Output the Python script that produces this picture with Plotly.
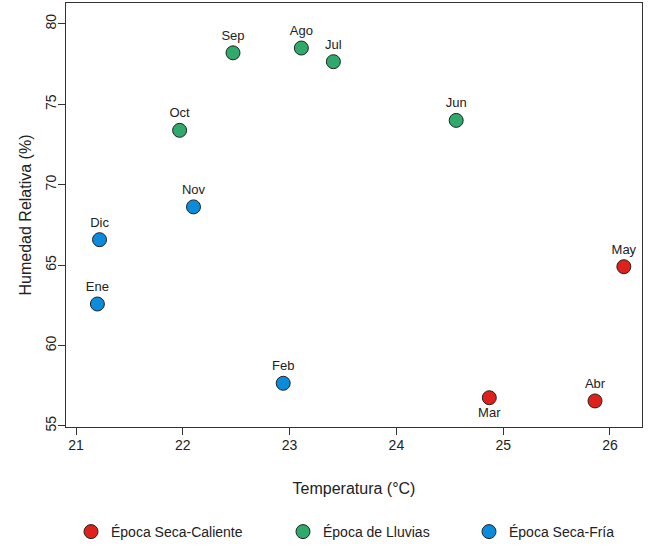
import plotly.graph_objects as go

# Data
months_cal = ["Mar", "Abr", "May"]
temp_cal = [24.87, 25.86, 26.13]
hum_cal = [56.75, 56.55, 64.90]
pos_cal = ["bottom center", "top center", "top center"]

months_llu = ["Jun", "Jul", "Ago", "Sep", "Oct"]
temp_llu = [24.56, 23.41, 23.11, 22.47, 21.97]
hum_llu = [74.00, 77.65, 78.50, 78.20, 73.38]

months_fri = ["Nov", "Dic", "Ene", "Feb"]
temp_fri = [22.10, 21.22, 21.20, 22.94]
hum_fri = [68.62, 66.58, 62.58, 57.65]

series_names = ["Época Seca-Caliente", "Época de Lluvias", "Época Seca-Fría"]
colors = ["#E0201B", "#2EAA6B", "#0A8BDB"]

x_ticks = [21, 22, 23, 24, 25, 26]
y_ticks = [55, 60, 65, 70, 75, 80]

FONT = "Liberation Sans, Arial, sans-serif"
W, H = 650, 546
L, R, T, B = 66, 8, 3, 119
pw = W - L - R
ph = H - T - B


def px_x(p):
    return (p - L) / pw


def px_y(p):
    return (H - B - p) / ph


fig = go.Figure()
data = [
    (months_cal, temp_cal, hum_cal, pos_cal),
    (months_llu, temp_llu, hum_llu, ["top center"] * len(months_llu)),
    (months_fri, temp_fri, hum_fri, ["top center"] * len(months_fri)),
]
legend_ids = ["legend", "legend2", "legend3"]
for i, (m, tx, hy, pos) in enumerate(data):
    fig.add_trace(go.Scatter(
        x=tx, y=hy, text=m, mode="markers+text",
        textposition=pos,
        textfont=dict(family=FONT, size=13, color="#222222"),
        marker=dict(size=14, color=colors[i], line=dict(width=1, color="#222222")),
        name=series_names[i],
        legend=legend_ids[i],
        cliponaxis=False,
    ))

axis_common = dict(
    showline=True, mirror=True, linecolor="#333333", linewidth=1,
    ticks="outside", ticklen=7, tickcolor="#333333", tickwidth=1,
    showgrid=False, zeroline=False, automargin=False,
    tickfont=dict(family=FONT, size=14, color="#222222"),
    title_font=dict(family=FONT, size=16, color="#222222"),
)

fig.update_xaxes(range=[20.906, 26.30], tickvals=x_ticks, ticklabelstandoff=-2,
                 title_text="Temperatura (°C)", title_standoff=31, **axis_common)
fig.update_yaxes(range=[54.93, 81.3], tickvals=y_ticks, tickangle=-90,
                 ticklabelstandoff=-4,
                 title_text="Humedad Relativa (%)", title_standoff=7, **axis_common)

leg_common = dict(orientation="h", yanchor="middle", xanchor="left",
                  font=dict(family=FONT, size=14, color="#222222"),
                  bgcolor="rgba(0,0,0,0)", borderwidth=0)
leg_x = [71, 283, 469]
ly = px_y(532)
fig.update_layout(
    width=W, height=H,
    margin=dict(l=L, r=R, t=T, b=B, autoexpand=False),
    paper_bgcolor="white", plot_bgcolor="white",
    legend=dict(x=px_x(leg_x[0]), y=ly, **leg_common),
    legend2=dict(x=px_x(leg_x[1]), y=ly, **leg_common),
    legend3=dict(x=px_x(leg_x[2]), y=ly, **leg_common),
    showlegend=True,
)

fig.write_html("out.html", config={"displayModeBar": False},
               post_script="document.body.style.margin='0';")
